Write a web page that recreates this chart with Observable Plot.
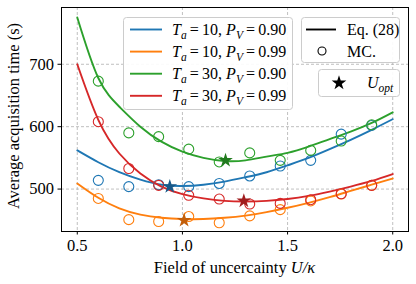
<!DOCTYPE html>
<html><head><meta charset="utf-8">
<script src="https://cdn.jsdelivr.net/npm/d3@7"></script>
<script src="https://cdn.jsdelivr.net/npm/@observablehq/plot@0.6"></script>
<style>
body{margin:0;background:#fff}
#chart{position:relative;width:416px;height:284px}
</style>
</head><body><div id="chart"></div>
<script>
// ---- data ----
const seriesKeys = ["Ta10Pv090", "Ta10Pv099", "Ta30Pv090", "Ta30Pv099"];
const seriesTa = ["10", "10", "30", "30"];
const seriesPv = ["0.90", "0.99", "0.90", "0.99"];
const lineColors = ["#1f77b4", "#ff7f0e", "#2ca02c", "#d62728"];
const starColors = ["#17598a", "#c45f0a", "#217a1e", "#a01c1e"];

// Eq. (28) curves
const curveU = [0.5, 0.6, 0.7, 0.8, 0.9, 1.0, 1.1, 1.2, 1.3, 1.4, 1.5, 1.6, 1.7, 1.8, 1.9, 2.0];
const eqBlue   = [562, 543, 527, 515, 507, 505, 507, 512, 519, 527, 538, 550, 564, 579, 595, 612];
const eqOrange = [509, 486, 469, 459, 454, 452, 452, 454, 457.5, 463, 470, 478, 487, 497, 507, 517];
const eqGreen  = [775, 678, 632, 600, 576, 560, 550, 545, 546, 552, 558, 568, 580, 592, 606, 623];
const eqRed    = [700, 611, 557, 525, 504, 492, 485, 481, 480, 481, 484, 489, 496, 504, 513, 524];

// Monte-Carlo points
const mcU = [0.6, 0.745, 0.887, 1.03, 1.175, 1.32, 1.465, 1.61, 1.755, 1.9];
const mcBlue   = [514, 504, 507, 504, 509, 521, 537, 546, 588, 602];
const mcOrange = [485, 451, 448, 456, 446, 457, 467, 481, 492, 506];
const mcGreen  = [673, 590, 584, 564, 543.5, 558, 546, 562, 577, 603];
const mcRed    = [608, 533, 506, 490, 484, 476, 477, 483, 492.5, 506];

// Optimal U (stars)
const optU = [0.94, 1.008, 1.205, 1.292];
const optT = [504, 450, 546, 481];

const xTicks = [0.5, 1.0, 1.5, 2.0];
const yTicks = [500, 600, 700];

// ---- tables ----
const eqAll = [eqBlue, eqOrange, eqGreen, eqRed];
const mcAll = [mcBlue, mcOrange, mcGreen, mcRed];
const curves = seriesKeys.flatMap((k, i) => curveU.map((u, j) => ({series: k, color: lineColors[i], U: u, T: eqAll[i][j]})));
const mc = seriesKeys.flatMap((k, i) => mcU.map((u, j) => ({series: k, color: lineColors[i], U: u, T: mcAll[i][j]})));
const opt = seriesKeys.map((k, i) => ({series: k, color: starColors[i], U: optU[i], T: optT[i]}));

const FONT = "'Liberation Serif','Times New Roman',serif";

const plot = Plot.plot({
  width: 416, height: 284,
  marginLeft: 61, marginRight: 8, marginTop: 7, marginBottom: 53,
  x: {domain: [0.425, 2.075]},
  y: {domain: [432, 791]},
  color: {type: "identity"},
  style: {fontFamily: FONT, fontSize: "16.5px", color: "black", background: "white"},
  marks: [
    Plot.gridX(xTicks, {stroke: "#b0b0b0", strokeOpacity: 1, strokeWidth: 0.8, strokeDasharray: "3,2"}),
    Plot.gridY(yTicks, {stroke: "#b0b0b0", strokeOpacity: 1, strokeWidth: 0.8, strokeDasharray: "3,2"}),
    Plot.line(curves, {x: "U", y: "T", z: "series", stroke: "color", strokeWidth: 1.9, curve: "natural"}),
    Plot.dot(mc, {x: "U", y: "T", stroke: "color", fill: "none", r: 5, strokeWidth: 1.1}),
    Plot.dot(opt, {x: "U", y: "T", fill: "color", symbol: "star", r: 4.6, stroke: "none"}),
    Plot.frame({stroke: "black", strokeWidth: 1}),
    Plot.axisX(xTicks, {tickSize: 3.5, tickPadding: 4, tickFormat: d3.format(".1f"), label: null, fontSize: 16.5}),
    Plot.axisY(yTicks, {tickSize: 3.5, tickPadding: 4, label: null, fontSize: 16.5})
  ]
});
document.getElementById("chart").appendChild(plot);

// ---- labels & legends ----
const svg = d3.select(plot);
const g = svg.append("g").attr("font-family", FONT).attr("fill", "black").attr("text-anchor", "start");

const xl = g.append("text").attr("x", 234.5).attr("y", 273).attr("text-anchor", "middle").attr("font-size", 16.5);
xl.append("tspan").text("Field of uncercainty ");
xl.append("tspan").attr("font-style", "italic").text("U/κ");

g.append("text").attr("transform", "translate(19,116) rotate(-90)").attr("text-anchor", "middle")
  .attr("font-size", 16.5).text("Average acquisition time (s)");

function mathLabel(sel, x, y, parts) {
  const t = sel.append("text").attr("x", x).attr("y", y).attr("font-size", 16).attr("text-anchor", "start");
  parts.forEach(p => {
    const ts = t.append("tspan").text(p.t);
    if (p.i) ts.attr("font-style", "italic");
    if (p.sub) ts.attr("font-size", 11.5).attr("dy", 3.5);
    if (p.up) ts.attr("dy", -3.5);
  });
  return t;
}

const BOX = {fill: "white", op: 0.92, stroke: "#cccccc"};

// series legend
const L = g.append("g");
L.append("rect").attr("x", 123.5).attr("y", 17.5).attr("width", 169).attr("height", 92).attr("rx", 3)
  .attr("fill", BOX.fill).attr("fill-opacity", BOX.op).attr("stroke", BOX.stroke);
seriesKeys.forEach((k, i) => {
  const cy = 29.5 + i * 22.1;
  L.append("line").attr("x1", 130).attr("x2", 162).attr("y1", cy).attr("y2", cy)
    .attr("stroke", lineColors[i]).attr("stroke-width", 1.9);
  mathLabel(L, 172, cy + 5.5, [
    {t: "T", i: true}, {t: "a", i: true, sub: true}, {t: "\u2009=\u2009" + seriesTa[i] + ", ", up: true},
    {t: "P", i: true}, {t: "V", i: true, sub: true}, {t: "\u2009=\u2009" + seriesPv[i], up: true}
  ]);
});

// method legend
const M = g.append("g");
M.append("rect").attr("x", 301.5).attr("y", 17.5).attr("width", 98).attr("height", 45).attr("rx", 3)
  .attr("fill", BOX.fill).attr("fill-opacity", BOX.op).attr("stroke", BOX.stroke);
M.append("line").attr("x1", 306).attr("x2", 336).attr("y1", 29.5).attr("y2", 29.5).attr("stroke", "black").attr("stroke-width", 1.9);
M.append("text").attr("x", 347).attr("y", 35).attr("font-size", 16).attr("text-anchor", "start").text("Eq. (28)");
M.append("circle").attr("cx", 322).attr("cy", 51).attr("r", 4).attr("fill", "none").attr("stroke", "black").attr("stroke-width", 1.1);
M.append("text").attr("x", 347).attr("y", 56.5).attr("font-size", 16).attr("text-anchor", "start").text("MC.");

// optimum legend
const O = g.append("g");
O.append("rect").attr("x", 318.5).attr("y", 69.5).attr("width", 81).attr("height", 27).attr("rx", 3)
  .attr("fill", BOX.fill).attr("fill-opacity", BOX.op).attr("stroke", BOX.stroke);
O.append("path").attr("transform", "translate(339,83)").attr("d", d3.symbol(d3.symbolStar, Math.PI * 4.6 * 4.6)()).attr("fill", "black");
mathLabel(O, 367, 88, [{t: "U", i: true}, {t: "opt", i: true, sub: true}]);
</script>
</body></html>
